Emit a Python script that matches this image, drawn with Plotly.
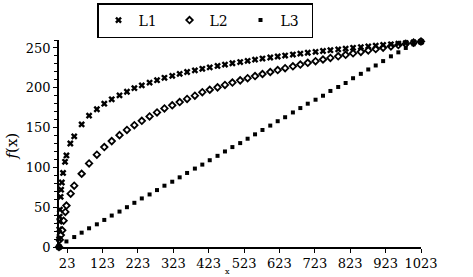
import plotly.graph_objects as go

# sampling grid (x values shared by the three series)
x_grid = [0, 21, 43, 64, 85, 107, 128, 149, 171, 192, 213, 234, 256, 277, 298, 320,
          341, 362, 384, 405, 426, 448, 469, 490, 512, 533, 554, 575, 597, 618, 639,
          661, 682, 703, 725, 746, 767, 789, 810, 831, 853, 874, 895, 916, 938, 959,
          980, 1002, 1023]

l1_y = [0, 115, 139, 154, 165, 173, 180, 185.5, 190.5, 195, 199.5, 203, 206.5, 209.5,
        212.5, 215, 217.5, 219.8, 221.8, 223.8, 225.6, 227.4, 229.1, 230.8, 232.3,
        233.8, 235.3, 236.7, 238, 239.3, 240.5, 241.7, 242.9, 244, 245.1, 246.2,
        247.2, 248.2, 249.2, 250.2, 251.1, 252, 252.9, 253.8, 254.6, 255.4, 256.2,
        257, 257.8]

l2_y = [0, 52, 77, 92, 105, 116, 125.5, 133, 140.5, 147, 153, 158.5, 164, 169, 174,
        178, 182, 186, 190, 194.5, 197.5, 200.5, 203.5, 206.5, 209.3, 212, 214.7,
        217.3, 219.8, 222.2, 224.6, 226.9, 229.1, 231.3, 233.4, 235.5, 237.5, 239.5,
        241.4, 243.3, 245.1, 246.9, 248.6, 250.3, 252, 253.6, 255.2, 256.7, 258.2]

l3_y = [0, 7, 12.5, 18, 23.5, 28.5, 34, 39.5, 44.5, 50, 55.5, 61, 66, 71.5, 77, 82,
        87.5, 93, 98.5, 103.5, 109, 114.5, 120, 125.5, 130.5, 136, 141.5, 147, 152.5,
        158, 163, 169, 174.5, 180, 185, 190, 196, 201, 206, 212, 217.5, 223, 228,
        233.5, 239.5, 244.5, 250, 254.5, 258]

# extra points near the origin
l1_extra_x = [0.3, 0.8, 1.4, 1.8, 2.6, 4.6, 6, 8, 11.5, 17, 32]
l1_extra_y = [10, 22, 32, 38, 47, 63, 72, 81, 93, 107, 130]
l2_extra_x = [2, 5, 9, 13, 18, 33]
l2_extra_y = [9, 15, 21, 33, 44, 67]

x_ticks = [23, 123, 223, 323, 423, 523, 623, 723, 823, 923, 1023]
y_ticks = [0, 50, 100, 150, 200, 250]

names = ["L1", "L2", "L3"]

serif = "DejaVu Serif"

fig = go.Figure()
fig.add_trace(go.Scatter(
    x=l1_extra_x + x_grid, y=l1_extra_y + l1_y, mode="markers", name=names[0],
    marker=dict(symbol="x", size=6, color="black"), cliponaxis=False))
fig.add_trace(go.Scatter(
    x=l2_extra_x + x_grid, y=l2_extra_y + l2_y, mode="markers", name=names[1],
    marker=dict(symbol="diamond-open", size=5, color="black", line=dict(width=1.8, color="black")),
    cliponaxis=False))
fig.add_trace(go.Scatter(
    x=x_grid, y=l3_y, mode="markers", name=names[2],
    marker=dict(symbol="square", size=4, color="black"), cliponaxis=False))

fig.update_layout(
    width=473, height=277,
    margin=dict(l=59, r=52, t=40, b=30, autoexpand=False),
    plot_bgcolor="white", paper_bgcolor="white",
    font=dict(family=serif, size=13, color="black"),
    showlegend=True,
    legend=dict(orientation="h", xref="container", yref="container",
                x=97 / 473, y=1 - 3 / 277, xanchor="left", yanchor="top",
                bordercolor="black", borderwidth=1.5, font=dict(size=14, family=serif),
                entrywidth=26, entrywidthmode="pixels",
                bgcolor="white"),
    xaxis=dict(range=[0, 1023], tickvals=x_ticks, ticktext=[str(v) for v in x_ticks],
               showline=True, linecolor="black", linewidth=1.5, ticks="outside",
               ticklen=4, tickwidth=1.2, tickcolor="black", showgrid=False,
               zeroline=False, tickfont=dict(size=13, family=serif)),
    yaxis=dict(range=[0, 260], tickvals=y_ticks, showline=True, linecolor="black",
               linewidth=1.5, ticks="outside", ticklen=4, tickwidth=1.2,
               tickcolor="black", showgrid=False, zeroline=False,
               tickfont=dict(size=13, family=serif),
               minor=dict(dtick=10, ticks="outside", ticklen=3, tickcolor="black",
                          showgrid=False)),
)

fig.add_annotation(text="<i>f</i>(x)", xref="paper", yref="paper", x=-0.13, y=0.49,
                   showarrow=False, textangle=-90, font=dict(size=15, family=serif),
                   xanchor="center", yanchor="middle")
fig.add_annotation(text="x", xref="paper", yref="paper", x=(227 - 59) / 362,
                   y=(247 - 271.5) / 207,
                   showarrow=False, font=dict(size=8, family=serif),
                   xanchor="center", yanchor="middle")

fig.write_html("out.html")
